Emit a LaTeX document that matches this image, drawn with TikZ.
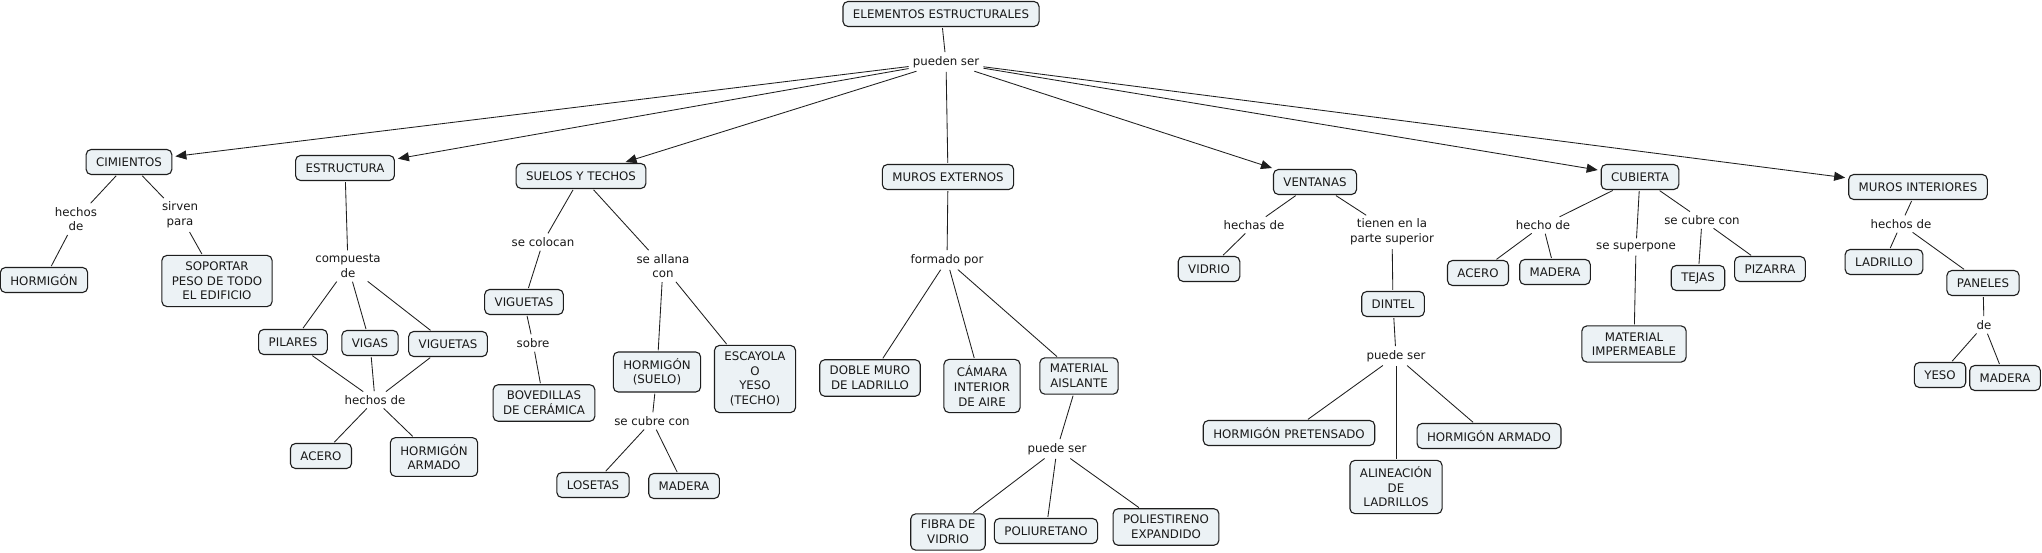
\documentclass[tikz,border=0pt]{standalone}
\usepackage{fontspec}
\setmainfont{DejaVu Sans}
\usetikzlibrary{arrows.meta}
\definecolor{cfill}{RGB}{236,242,245}
\definecolor{cline}{RGB}{30,30,30}
\begin{document}
\begin{tikzpicture}[x=1pt,y=-1pt,
  concept/.style={draw=cline, fill=cfill, rounded corners=5pt, line width=1.1pt, align=center,
    inner xsep=10pt, inner ysep=6.5pt, minimum height=25pt, font=\fontsize{11.8}{14.6}\selectfont, text=black!90},
  lbl/.style={align=center, inner sep=3pt, font=\fontsize{11.8}{14.6}\selectfont, text=black!90},
  link/.style={draw=cline, line width=0.85pt, shorten <=1pt, shorten >=1pt},
  arr/.style={link, -{Triangle[length=11pt,width=9pt]}, shorten >=3pt}]
\useasboundingbox (0,0) rectangle (2042,553);
\fill[white] (0,0) rectangle (2042,553);
% concepts
\node[concept] (ELEM) at (941,14) {ELEMENTOS ESTRUCTURALES};
\node[concept] (CIM) at (129,162) {CIMIENTOS};
\node[concept] (EST) at (345,168) {ESTRUCTURA};
\node[concept] (SUE) at (581,176) {SUELOS Y TECHOS};
\node[concept] (MEX) at (948,177) {MUROS EXTERNOS};
\node[concept] (VEN) at (1315,182) {VENTANAS};
\node[concept] (CUB) at (1640,177) {CUBIERTA};
\node[concept] (MIN) at (1918,187) {MUROS INTERIORES};
\node[concept] (HOR) at (44,280) {HORMIGÓN};
\node[concept] (SOP) at (217,281) {SOPORTAR\\PESO DE TODO\\EL EDIFICIO};
\node[concept] (PIL) at (293,342) {PILARES};
\node[concept] (VIG) at (370,343) {VIGAS};
\node[concept] (VGT) at (448,344) {VIGUETAS};
\node[concept] (ACE) at (321,456) {ACERO};
\node[concept] (HAR) at (434,457) {HORMIGÓN\\ARMADO};
\node[concept] (VGS) at (524,302) {VIGUETAS};
\node[concept] (BOV) at (544,403) {BOVEDILLAS\\DE CERÁMICA};
\node[concept] (HSU) at (657,372) {HORMIGÓN\\(SUELO)};
\node[concept] (ESC) at (755,379) {ESCAYOLA\\O\\YESO\\(TECHO)};
\node[concept] (LOS) at (593,485) {LOSETAS};
\node[concept] (MA1) at (684,486) {MADERA};
\node[concept] (DOB) at (870,378) {DOBLE MURO\\DE LADRILLO};
\node[concept] (CAM) at (982,386) {CÁMARA\\INTERIOR\\DE AIRE};
\node[concept] (MAT) at (1079,376) {MATERIAL\\AISLANTE};
\node[concept] (FIB) at (948,532) {FIBRA DE\\VIDRIO};
\node[concept] (POU) at (1046,531) {POLIURETANO};
\node[concept] (POE) at (1166,527) {POLIESTIRENO\\EXPANDIDO};
\node[concept] (VID) at (1209,269) {VIDRIO};
\node[concept] (DIN) at (1393,304) {DINTEL};
\node[concept] (HPR) at (1289,433) {HORMIGÓN PRETENSADO};
\node[concept] (ALI) at (1396,487) {ALINEACIÓN\\DE\\LADRILLOS};
\node[concept] (HA2) at (1489,436) {HORMIGÓN ARMADO};
\node[concept] (AC2) at (1478,273) {ACERO};
\node[concept] (MA2) at (1555,272) {MADERA};
\node[concept] (MIM) at (1634,344) {MATERIAL\\IMPERMEABLE};
\node[concept] (TEJ) at (1698,278) {TEJAS};
\node[concept] (PIZ) at (1770,269) {PIZARRA};
\node[concept] (LAD) at (1884,262) {LADRILLO};
\node[concept] (PAN) at (1983,283) {PANELES};
\node[concept] (YES) at (1940,375) {YESO};
\node[concept] (MA3) at (2005,378) {MADERA};
% labels
\node[lbl] (ps) at (946,62) {pueden ser};
\node[lbl] (l1) at (76,219) {hechos\\de};
\node[lbl] (l2) at (180,215) {sirven\\para};
\node[lbl] (l3) at (348,266) {compuesta\\de};
\node[lbl] (l4) at (375,400) {hechos de};
\node[lbl] (l5) at (543,242) {se colocan};
\node[lbl] (l6) at (533,343) {sobre};
\node[lbl] (l7) at (663,266) {se allana\\con};
\node[lbl] (l8) at (652,421) {se cubre con};
\node[lbl] (l9) at (947,260) {formado por};
\node[lbl] (l10) at (1057,449) {puede ser};
\node[lbl] (l11) at (1254,225) {hechas de};
\node[lbl] (l12) at (1392,232) {tienen en la\\parte superior};
\node[lbl] (l13) at (1396,356) {puede ser};
\node[lbl] (l14) at (1543,225) {hecho de};
\node[lbl] (l15) at (1636,247) {se superpone};
\node[lbl] (l16) at (1702,220) {se cubre con};
\node[lbl] (l17) at (1901,224) {hechos de};
\node[lbl] (l18) at (1984,325) {de};
% links
\draw[link] (ELEM) -- (ps);
\draw[arr] (ps) -- (CIM);
\draw[arr] (ps) -- (EST);
\draw[arr] (ps) -- (SUE);
\draw[link] (ps) -- (MEX);
\draw[arr] (ps) -- (VEN);
\draw[arr] (ps) -- (CUB);
\draw[arr] (ps) -- (MIN);
\draw[link] (CIM) -- (l1); \draw[link] (l1) -- (HOR);
\draw[link] (CIM) -- (l2); \draw[link] (l2) -- (SOP);
\draw[link] (EST) -- (l3);
\draw[link] (l3) -- (PIL); \draw[link] (l3) -- (VIG); \draw[link] (l3) -- (VGT);
\draw[link] (PIL) -- (l4); \draw[link] (VIG) -- (l4); \draw[link] (VGT) -- (l4);
\draw[link] (l4) -- (ACE); \draw[link] (l4) -- (HAR);
\draw[link] (SUE) -- (l5); \draw[link] (l5) -- (VGS);
\draw[link] (VGS) -- (l6); \draw[link] (l6) -- (BOV);
\draw[link] (SUE) -- (l7); \draw[link] (l7) -- (HSU); \draw[link] (l7) -- (ESC);
\draw[link] (HSU) -- (l8); \draw[link] (l8) -- (LOS); \draw[link] (l8) -- (MA1);
\draw[link] (MEX) -- (l9);
\draw[link] (l9) -- (DOB); \draw[link] (l9) -- (CAM); \draw[link] (l9) -- (MAT);
\draw[link] (MAT) -- (l10);
\draw[link] (l10) -- (FIB); \draw[link] (l10) -- (POU); \draw[link] (l10) -- (POE);
\draw[link] (VEN) -- (l11); \draw[link] (l11) -- (VID);
\draw[link] (VEN) -- (l12); \draw[link] (l12) -- (DIN);
\draw[link] (DIN) -- (l13);
\draw[link] (l13) -- (HPR); \draw[link] (l13) -- (ALI); \draw[link] (l13) -- (HA2);
\draw[link] (CUB) -- (l14); \draw[link] (l14) -- (AC2); \draw[link] (l14) -- (MA2);
\draw[link] (CUB) -- (l15); \draw[link] (l15) -- (MIM);
\draw[link] (CUB) -- (l16); \draw[link] (l16) -- (TEJ); \draw[link] (l16) -- (PIZ);
\draw[link] (MIN) -- (l17); \draw[link] (l17) -- (LAD); \draw[link] (l17) -- (PAN);
\draw[link] (PAN) -- (l18); \draw[link] (l18) -- (YES); \draw[link] (l18) -- (MA3);
\end{tikzpicture}
\end{document}
